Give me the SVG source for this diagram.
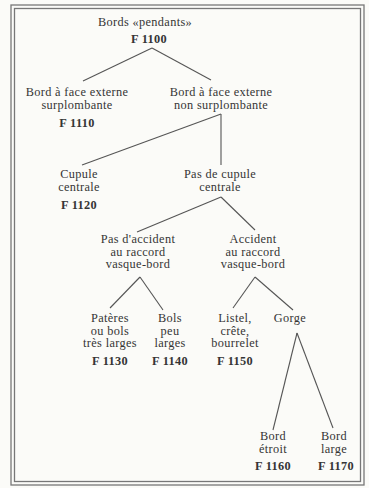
<svg xmlns="http://www.w3.org/2000/svg" width="369" height="488" viewBox="0 0 369 488">
<style>
text{font-family:"Liberation Serif","Times New Roman",serif;font-size:12.3px;letter-spacing:0.35px;fill:#353535;text-anchor:middle}
.c{font-weight:bold}
.e line{stroke:#555;stroke-width:1.1;fill:none}
.f{fill:none;stroke:#777;stroke-width:1.3}
</style>
<rect width="369" height="488" fill="#fbfbf8"/>
<rect class="f" x="11" y="5" width="353" height="480"/>
<rect class="f" x="14.5" y="8.5" width="346" height="473"/>
<g class="e" id="connectors">
<line x1="152" y1="48" x2="83" y2="81"/>
<line x1="152" y1="48" x2="211" y2="80"/>
<line x1="221" y1="114" x2="82" y2="165"/>
<line x1="221" y1="114" x2="221" y2="165"/>
<line x1="221" y1="197" x2="137" y2="232"/>
<line x1="221" y1="197" x2="255" y2="230"/>
<line x1="140" y1="277" x2="110" y2="308"/>
<line x1="140" y1="277" x2="163" y2="310"/>
<line x1="255" y1="277" x2="233" y2="308"/>
<line x1="255" y1="277" x2="293" y2="310"/>
<line x1="297" y1="333" x2="273" y2="430"/>
<line x1="297" y1="333" x2="333" y2="428"/>
</g>
<g id="n1100"><text x="145" y="26">Bords «pendants»</text><text class="c" x="149" y="43">F 1100</text></g>
<g id="n1110"><text x="77" y="96">Bord à face externe</text><text x="77" y="108.5">surplombante</text><text class="c" x="77" y="127">F 1110</text></g>
<g id="nNonSurpl"><text x="221" y="96">Bord à face externe</text><text x="221" y="108.5">non surplombante</text></g>
<g id="n1120"><text x="79" y="178">Cupule</text><text x="79" y="190.5">centrale</text><text class="c" x="79" y="209">F 1120</text></g>
<g id="nPasCupule"><text x="220" y="178">Pas de cupule</text><text x="220" y="190.5">centrale</text></g>
<g id="nPasAccident"><text x="138" y="243">Pas d'accident</text><text x="138" y="255.5">au raccord</text><text x="138" y="268">vasque-bord</text></g>
<g id="nAccident"><text x="253" y="243">Accident</text><text x="253" y="255.5">au raccord</text><text x="253" y="268">vasque-bord</text></g>
<g id="n1130"><text x="110" y="322">Patères</text><text x="110" y="334.5">ou bols</text><text x="110" y="347">très larges</text><text class="c" x="110" y="365">F 1130</text></g>
<g id="n1140"><text x="170" y="322">Bols</text><text x="170" y="334.5">peu</text><text x="170" y="347">larges</text><text class="c" x="170" y="365">F 1140</text></g>
<g id="n1150"><text x="235" y="322">Listel,</text><text x="235" y="334.5">crête,</text><text x="235" y="347">bourrelet</text><text class="c" x="235" y="365">F 1150</text></g>
<g id="nGorge"><text x="290" y="322">Gorge</text></g>
<g id="n1160"><text x="273" y="440">Bord</text><text x="273" y="452.5">étroit</text><text class="c" x="273" y="470">F 1160</text></g>
<g id="n1170"><text x="334" y="440">Bord</text><text x="334" y="452.5">large</text><text class="c" x="336" y="470">F 1170</text></g>
</svg>
